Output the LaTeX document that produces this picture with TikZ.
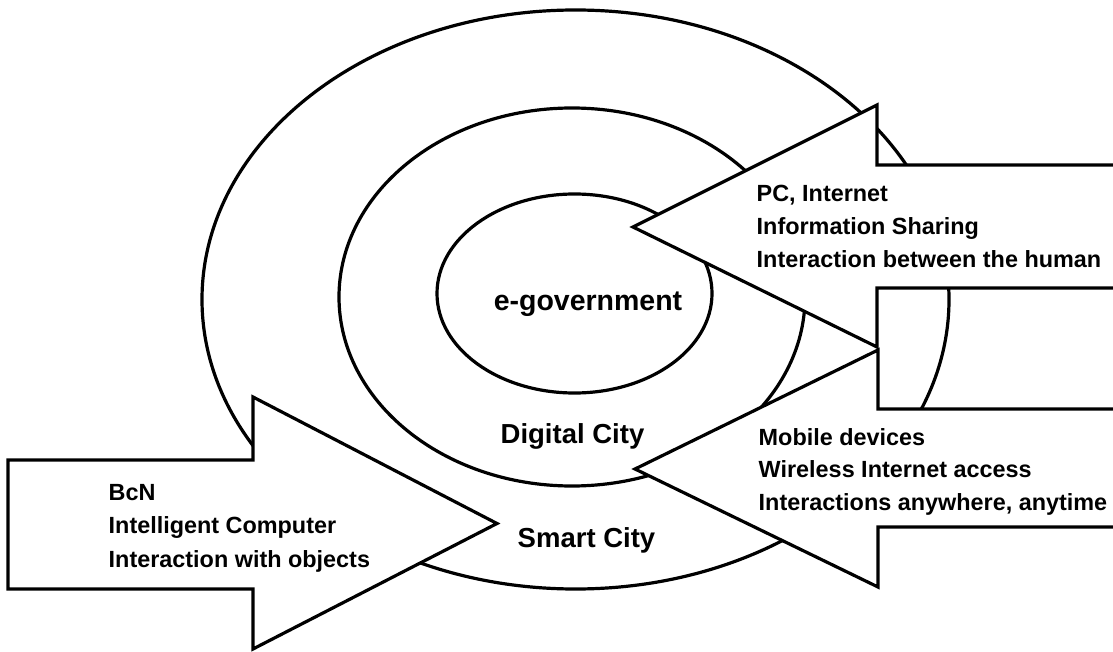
\documentclass[tikz,border=0pt]{standalone}
\usepackage{fontspec}
\setmainfont{Liberation Sans}
\begin{document}
\begin{tikzpicture}[x=1pt,y=-1pt,
  ring/.style={draw=black, line width=3.2pt},
  bigarrow/.style={draw=black, fill=white, line width=3.2pt, line join=miter},
  sidetext/.style={anchor=base west, inner sep=0pt, font=\bfseries\fontsize{23.4}{28}\selectfont},
  ringlabel/.style={anchor=base, inner sep=0pt, font=\bfseries\fontsize{27.5}{33}\selectfont}]
\useasboundingbox (0,0) rectangle (1113,652);
\clip (0,0) rectangle (1113,652);
% rings
\draw[ring] (575.5,299.5) ellipse [x radius=373.5pt, y radius=289.5pt];
\draw[ring] (572,297) ellipse [x radius=233pt, y radius=189pt];
\draw[ring] (574.5,293.5) ellipse [x radius=137.5pt, y radius=99.5pt];
% arrows
\draw[bigarrow] (8,460) -- (253,460) -- (253,397) -- (497,523.5) -- (253,649) -- (253,589) -- (8,589) -- cycle;
\draw[bigarrow] (1130,165) -- (877,165) -- (877,105) -- (633,227) -- (877,347) -- (877,288) -- (1130,288);
\draw[bigarrow] (1130,409) -- (878,409) -- (878,350) -- (635,469) -- (878,587) -- (878,527) -- (1130,527);
% ring labels
\node[ringlabel, font=\bfseries\fontsize{28.5}{33}\selectfont] (egov) at (588,310) {e-government};
\node[ringlabel] (digital) at (572.5,443) {Digital City};
\node[ringlabel] (smart) at (586.5,547) {Smart City};
% left arrow text
\node[sidetext] (l1) at (108.5,500) {BcN};
\node[sidetext] (l2) at (108.5,533) {Intelligent Computer};
\node[sidetext] (l3) at (108.5,567) {Interaction with objects};
% upper right arrow text
\node[sidetext] (u1) at (756.5,202) {PC, Internet};
\node[sidetext] (u2) at (756.5,235) {Information Sharing};
\node[sidetext] (u3) at (756.5,268) {Interaction between the human};
% lower right arrow text
\node[sidetext] (d1) at (758.5,445) {Mobile devices};
\node[sidetext] (d2) at (758.5,477) {Wireless Internet access};
\node[sidetext] (d3) at (758.5,510) {Interactions anywhere, anytime};
\end{tikzpicture}
\end{document}
